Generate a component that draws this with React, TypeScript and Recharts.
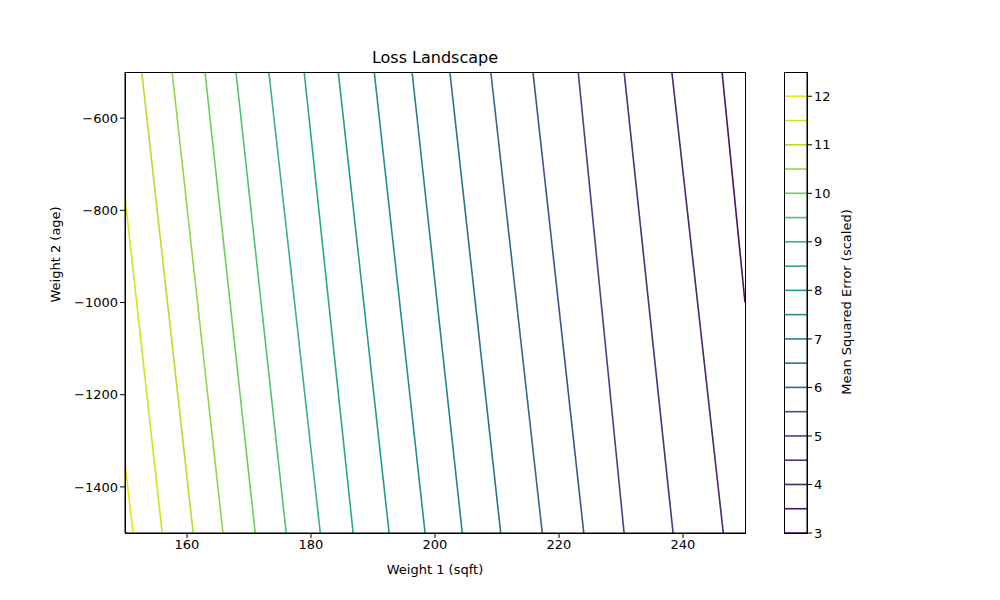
import React from "react";
import { LineChart, Line, XAxis, YAxis } from "recharts";

// contour levels, with the two end points of each contour
const levels = [3.5, 4, 4.5, 5, 5.5, 6, 6.5, 7, 7.5, 8, 8.5, 9, 9.5, 10, 10.5, 11, 11.5, 12];
const startW1 = [246.3, 238.2, 230.5, 223.1, 215.8, 209.0, 202.4, 196.3, 190.2, 184.4, 178.9, 173.2, 167.9, 162.9, 157.6, 152.7, 150, 150];
const startW2 = [-500, -500, -500, -500, -500, -500, -500, -500, -500, -500, -500, -500, -500, -500, -500, -500, -771, -1348];
const endW1 = [250, 246.5, 238.4, 230.5, 224.0, 217.3, 210.6, 204.4, 198.4, 192.6, 186.8, 181.5, 176.0, 171.0, 165.8, 161.0, 156.0, 151.3];
const endW2 = [-1000, -1500, -1500, -1500, -1500, -1500, -1500, -1500, -1500, -1500, -1500, -1500, -1500, -1500, -1500, -1500, -1500, -1500];
const colors = [
  "#471365", "#482475", "#463480", "#414487", "#39568c", "#31688e", "#2c738e", "#26828e", "#21918c",
  "#1f9e89", "#25ab82", "#35b779", "#4ec36b", "#6ccd5a", "#8fd744", "#b5de2b", "#d2e21b", "#e8e419",
];
const barLevels = [3, ...levels];
const barColors = ["#440154", ...colors];

const xTicks = [160, 180, 200, 220, 240];
const yTicks = [-1400, -1200, -1000, -800, -600];
const barTicks = [3, 4, 5, 6, 7, 8, 9, 10, 11, 12];

const font = "DejaVu Sans, sans-serif";
const fmt = (v: number) => String(v).replace("-", "\u2212");
const tickStyle = { fill: "#000", fontSize: 13 };

export default function App() {
  return (
    <div style={{ position: "relative", width: 1000, height: 600, margin: -8, fontFamily: font, background: "#fff" }}>
      <div style={{ position: "absolute", left: 0, top: 48, width: 870, textAlign: "center", fontSize: 16 }}>
        Loss Landscape
      </div>
      <div style={{ position: "absolute", left: 0, top: 0 }}>
        <LineChart width={1000} height={600} margin={{ top: 72, right: 255, bottom: 0, left: 0 }}>
          <XAxis
            type="number"
            dataKey="x"
            domain={[150, 250]}
            ticks={xTicks}
            allowDataOverflow
            height={67}
            tickSize={5}
            stroke="#000"
            tick={tickStyle}
            label={{ value: "Weight 1 (sqft)", position: "insideBottom", offset: 26, fill: "#000", fontSize: 13 }}
          />
          <YAxis
            type="number"
            dataKey="y"
            domain={[-1500, -500]}
            ticks={yTicks}
            allowDataOverflow
            width={125}
            tickSize={5}
            stroke="#000"
            tick={tickStyle}
            tickFormatter={fmt}
            label={{ value: "Weight 2 (age)", angle: -90, position: "insideLeft", offset: 55, fill: "#000", fontSize: 13 }}
          />
          {levels.map((l, i) => (
            <Line
              key={l}
              data={[
                { x: startW1[i], y: startW2[i] },
                { x: endW1[i], y: endW2[i] },
              ]}
              dataKey="y"
              stroke={colors[i]}
              strokeWidth={1.6}
              dot={false}
              isAnimationActive={false}
            />
          ))}
        </LineChart>
      </div>
      <div style={{ position: "absolute", left: 125, top: 72, width: 619, height: 460, border: "1px solid #000" }} />
      <div style={{ position: "absolute", left: 0, top: 0 }}>
        <LineChart width={1000} height={600} margin={{ top: 72, right: 0, bottom: 67, left: 784 }}>
          <XAxis type="number" dataKey="x" domain={[0, 1]} hide />
          <YAxis
            type="number"
            dataKey="y"
            orientation="right"
            domain={[3, 12.5]}
            ticks={barTicks}
            width={193}
            tickSize={5}
            stroke="#000"
            tick={tickStyle}
          />
          {barLevels.map((l, i) => (
            <Line
              key={l}
              data={[
                { x: 0, y: l },
                { x: 1, y: l },
              ]}
              dataKey="y"
              stroke={barColors[i]}
              strokeWidth={1.6}
              dot={false}
              isAnimationActive={false}
            />
          ))}
        </LineChart>
      </div>
      <div style={{ position: "absolute", left: 784, top: 72, width: 22, height: 460, border: "1px solid #000" }} />
      <div
        style={{
          position: "absolute",
          left: 846,
          top: 302,
          transform: "translate(-50%, -50%) rotate(-90deg)",
          whiteSpace: "nowrap",
          fontSize: 13,
        }}
      >
        Mean Squared Error (scaled)
      </div>
    </div>
  );
}
